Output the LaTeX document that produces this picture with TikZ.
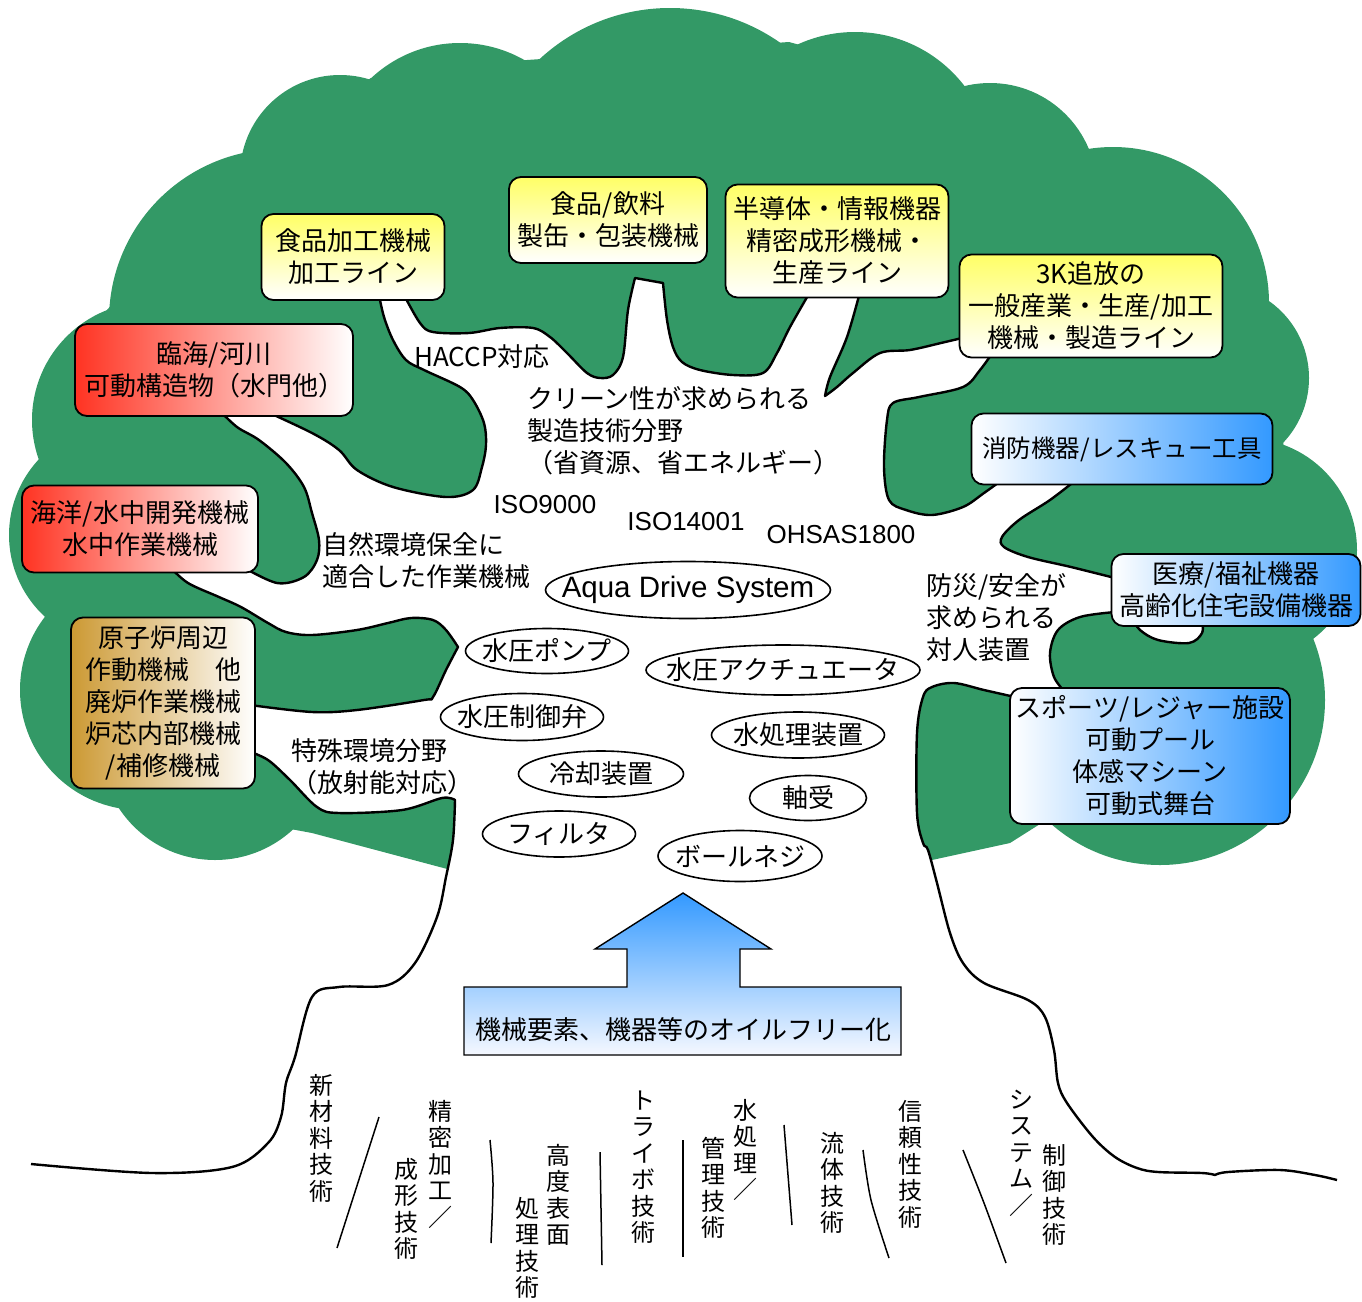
\documentclass[tikz,border=0pt]{standalone}
\usepackage{fontspec}
\setmainfont{Noto Sans CJK JP}
\newfontfamily\latfont{Liberation Sans}
\usepackage{tikz}
\usetikzlibrary{shapes.geometric}

\definecolor{hamidori}{RGB}{51,153,102}
\definecolor{kiiroiro}{RGB}{255,255,102}
\definecolor{akairo}{RGB}{255,51,34}
\definecolor{kinchairo}{RGB}{204,153,51}
\definecolor{aoiro}{RGB}{51,153,255}
\definecolor{nakaao}{RGB}{175,205,255}
\definecolor{usuao}{RGB}{245,248,255}

\newcommand{\moji}{\fontsize{26pt}{32pt}\selectfont}
\newcommand{\komoji}{\fontsize{24pt}{26.5pt}\selectfont}

\begin{document}
\begin{tikzpicture}[
  x=1pt, y=-1pt,
  font=\moji,
  happa/.style={fill=hamidori},
  miki/.style={draw, line width=2.4pt, fill=white, line join=round},
  hako/.style={draw, line width=1.8pt, rounded corners=12pt, align=center, inner sep=0pt},
  kiiro/.style={hako, top color=kiiroiro, bottom color=white},
  aka/.style={hako, left color=akairo, right color=white},
  kincha/.style={hako, left color=kinchairo, right color=white},
  ao/.style={hako, left color=white, right color=aoiro},
  youso/.style={ellipse, draw, line width=1.6pt, fill=white, inner sep=0pt},
  setsu/.style={align=left, inner sep=0pt, anchor=west},
  iso/.style={font=\latfont\moji, inner sep=0pt},
  ne/.style={align=center, inner sep=0pt, font=\komoji},
  nesen/.style={line width=1.5pt}
]
\useasboundingbox (0,0) rectangle (1362,1301);

% ---------- Canopy (cusps + round bumps) ----------
\fill[happa] (527,60) -- (789,42) -- (945,85) -- (1087,150) -- (1269,303) -- (1284,450)
  -- (1310,653) -- (1010,843) -- (932,860) -- (451,870) -- (312,833) -- (118,797)
  -- (47,617) -- (45,453) -- (107,310) -- (243,155) -- (371,78) -- cycle;
\foreach \cx/\cy/\r in {670/200/192, 460/173/130, 340/175/100, 280/320/171,
    150/420/118, 120/535/111, 140/690/120, 215/745/115,
    855/170/138, 990/190/107, 1113/303/156, 1215/378/94, 1245/550/112, 1160/700/165}
  \fill[happa] (\cx,\cy) circle[radius=\r];

% ---------- Trunk and branches (white) ----------
\draw[miki]
  plot[smooth, tension=0.55] coordinates {(31,1164) (152,1173) (232,1167) (268,1143) (281,1117)
    (286,1083) (295,1057) (312,997) (339,987) (388,985) (415,963) (437,917) (446,877) (453,840) (455,800)}
  -- plot[smooth, tension=0.55] coordinates {(455,800) (442,798) (402,810) (339,813) (317,807)
    (290,780) (268,760) (248,751)}
  -- plot[smooth, tension=0.55] coordinates {(250,705) (312,712) (357,710) (424,700) (433,697)
    (446,670) (458,647)}
  -- plot[smooth, tension=0.55] coordinates {(458,647) (446,630) (433,620) (411,618) (388,623)
    (357,630) (312,635) (286,632) (268,623) (241,607) (219,597) (188,583) (170,567)}
  -- plot[smooth, tension=0.55] coordinates {(241,566) (277,583) (304,577) (317,560) (319,540)
    (312,513) (304,487) (286,463) (259,440) (237,427) (219,410)}
  -- plot[smooth, tension=0.55] coordinates {(263,410) (312,433) (339,450) (357,470) (393,487)
    (446,497) (473,490) (482,467) (486,445) (484,423) (473,400) (460,387) (424,370) (406,360)
    (393,340) (384,317) (379,295)}
  -- plot[smooth, tension=0.55] coordinates {(404,295) (420,323) (433,332) (469,333) (500,328)
    (533,328) (550,337) (567,353) (587,373) (600,378) (613,375) (623,357) (628,310) (635,278)}
  -- plot[smooth, tension=0.55] coordinates {(663,283) (667,320) (673,347) (682,362) (700,370)
    (733,375) (763,373) (777,353) (790,327) (810,292)}
  -- plot[smooth, tension=0.55] coordinates {(860,292) (847,337) (830,377) (825,396)}
  -- plot[smooth, tension=0.55] coordinates {(825,396) (837,387) (853,373) (880,353) (910,350)
    (941,343) (962,338)}
  -- plot[smooth, tension=0.55] coordinates {(993,352) (980,370) (963,387) (919,397) (893,403)
    (887,420) (884,467) (889,500) (906,510) (932,515) (963,507) (984,493) (1002,480)}
  -- plot[smooth, tension=0.55] coordinates {(1076,480) (1050,500) (1019,520) (1002,537) (1004,547)
    (1028,557) (1071,567) (1115,578)}
  -- plot[smooth, tension=0.55] coordinates {(1115,612) (1080,617) (1058,630) (1050,653) (1054,677)
    (1065,692)}
  -- plot[smooth, tension=0.55] coordinates {(1015,697) (984,690) (954,683) (932,687) (923,697)
    (917,733) (917,813) (923,843) (928,850) (937,883) (950,933) (963,963) (984,983) (1028,1000)
    (1045,1017) (1054,1050) (1058,1083) (1067,1103) (1093,1137) (1115,1157) (1137,1168)
    (1158,1172) (1202,1173) (1215,1175)}
  -- plot[smooth, tension=0.55] coordinates {(1215,1175) (1228,1172) (1280,1170) (1315,1175) (1337,1180)};
\draw[miki] plot[smooth, tension=0.55] coordinates {(1132,618) (1140,630) (1158,640) (1189,643)
  (1202,633) (1202,618)};

% ---------- Application boxes ----------
\node[kiiro, minimum width=183pt, minimum height=86pt] (kakou) at (353,257) {食品加工機械\\加工ライン};
\node[kiiro, minimum width=198pt, minimum height=86pt] (inryou) at (608,220) {食品/飲料\\製缶・包装機械};
\node[kiiro, minimum width=223pt, minimum height=113pt] (handoutai) at (837,241) {半導体・情報機器\\精密成形機械・\\生産ライン};
\node[kiiro, minimum width=263pt, minimum height=103pt] (sanK) at (1091,306) {3K追放の\\一般産業・生産/加工\\機械・製造ライン};
\node[aka, minimum width=278pt, minimum height=92pt] (rinkai) at (214,370) {臨海/河川\\可動構造物（水門他）};
\node[aka, minimum width=236pt, minimum height=87pt] (kaiyou) at (140,529) {海洋/水中開発機械\\水中作業機械};
\node[kincha, minimum width=184pt, minimum height=171pt] (genshiro) at (163,703) {原子炉周辺\\作動機械　他\\廃炉作業機械\\炉芯内部機械\\/補修機械};
\node[ao, minimum width=301pt, minimum height=71pt, font=\fontsize{24.5pt}{30pt}\selectfont] (shoubou) at (1122,449) {消防機器/レスキュー工具};
\node[ao, minimum width=249pt, minimum height=72pt] (iryou) at (1236,590) {医療/福祉機器\\高齢化住宅設備機器};
\node[ao, minimum width=280pt, minimum height=136pt] (sports) at (1150,756) {スポーツ/レジャー施設\\可動プール\\体感マシーン\\可動式舞台};

% ---------- Field labels ----------
\node[inner sep=0pt] (haccp) at (482,357) {HACCP対応};
\node[setsu] (clean) at (527,431) {クリーン性が求められる\\製造技術分野\\（省資源、省エネルギー）};
\node[iso] (iso9000) at (545,505) {ISO9000};
\node[iso] (iso14001) at (686,522) {ISO14001};
\node[iso] (ohsas) at (841,535) {OHSAS1800};
\node[setsu] (shizen) at (322,561) {自然環境保全に\\適合した作業機械};
\node[setsu] (bousai) at (926,618) {防災/安全が\\求められる\\対人装置};
\node[setsu] (tokushu) at (291,767) {特殊環境分野\\（放射能対応）};

% ---------- Elements (ellipses) ----------
\node[youso, minimum width=285pt, minimum height=57pt,
  label={[font=\latfont\fontsize{29.5pt}{34pt}\selectfont]center:Aqua Drive System}] (ads) at (688,590) {};
\node[youso, minimum width=163pt, minimum height=45pt, label={center:水圧ポンプ}] (pump) at (547,651) {};
\node[youso, minimum width=274pt, minimum height=50pt, label={center:水圧アクチュエータ}] (actuator) at (783,670) {};
\node[youso, minimum width=163pt, minimum height=47pt, label={center:水圧制御弁}] (valve) at (522,717) {};
\node[youso, minimum width=173pt, minimum height=46pt, label={center:水処理装置}] (water) at (798,735) {};
\node[youso, minimum width=165pt, minimum height=46pt, label={center:冷却装置}] (cooler) at (601,774) {};
\node[youso, minimum width=117pt, minimum height=45pt, label={center:軸受}] (bearing) at (808,798) {};
\node[youso, minimum width=153pt, minimum height=46pt, label={center:フィルタ}] (filter) at (559,834) {};
\node[youso, minimum width=164pt, minimum height=51pt, label={center:ボールネジ}] (screw) at (740,856) {};

% ---------- Oil-free arrow ----------
\draw[line width=1.4pt, top color=aoiro, middle color=nakaao, bottom color=usuao]
  (464,987) -- (627,987) -- (627,949) -- (595,949) -- (683,893) -- (771,949) -- (740,949)
  -- (740,987) -- (901,987) -- (901,1055) -- (464,1055) -- cycle;
\node[inner sep=0pt] (oilfree) at (683,1030) {機械要素、機器等のオイルフリー化};

% ---------- Roots: base technologies ----------
\node[ne] (shinzai) at (321,1138) {新\\材\\料\\技\\術};
\node[ne] (seimitsu) at (440,1164) {精\\密\\加\\工\\／};
\node[ne] (seikei) at (406,1209) {成\\形\\技\\術};
\node[ne] (koudo) at (558,1195) {高\\度\\表\\面};
\node[ne] (shori) at (527,1248) {処\\理\\技\\術};
\node[ne] (tribo) at (643,1167) {ト\\ラ\\イ\\ボ\\技\\術};
\node[ne] (mizu) at (745,1150) {水\\処\\理\\／};
\node[ne] (kanri) at (713,1188) {管\\理\\技\\術};
\node[ne] (ryuutai) at (832,1183) {流\\体\\技\\術};
\node[ne] (shinrai) at (910,1164) {信\\頼\\性\\技\\術};
\node[ne] (system) at (1021,1153) {シ\\ス\\テ\\ム\\／};
\node[ne] (seigyo) at (1054,1195) {制\\御\\技\\術};

\draw[nesen] (379,1117) -- (337,1248);
\draw[nesen] plot[smooth] coordinates {(490,1140) (493,1183) (491,1243)};
\draw[nesen] (600,1152) -- (602,1265);
\draw[nesen] (683,1140) -- (683,1257);
\draw[nesen] (784,1125) -- (792,1225);
\draw[nesen] plot[smooth] coordinates {(863,1150) (871,1200) (889,1258)};
\draw[nesen] plot[smooth] coordinates {(963,1150) (984,1203) (1006,1263)};

\end{tikzpicture}
\end{document}
